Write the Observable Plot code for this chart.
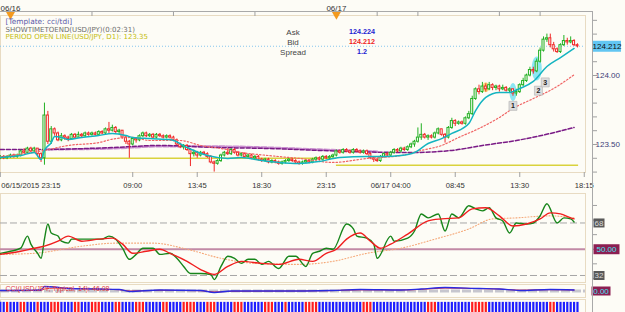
<!DOCTYPE html>
<html><head><meta charset="utf-8">
<script src="https://cdn.jsdelivr.net/npm/d3@7"></script>
<script src="https://cdn.jsdelivr.net/npm/@observablehq/plot@0.6"></script>
<style>
html,body{margin:0;padding:0;background:#fdfcf6;}
#c{position:relative;width:625px;height:312px;overflow:hidden;background:#fdfcf6;}
#c svg{position:absolute;left:0;}
.vline{position:absolute;background:#a9a9a9;}
</style></head><body><div id="c"></div>
<script>
// ---------- data ----------
const firstOpen = 123.40;
const close = [
123.41,123.40,123.41,123.42,123.41,123.42,123.45,123.44,123.47,123.45,
123.47,123.43,123.40,123.71,123.52,123.61,123.58,123.53,123.56,123.55,
123.54,123.57,123.55,123.57,123.56,123.58,123.57,123.58,123.57,123.59,
123.58,123.61,123.60,123.62,123.59,123.60,123.55,123.52,123.50,123.54,
123.53,123.56,123.58,123.56,123.57,123.55,123.57,123.56,123.55,123.56,
123.55,123.53,123.50,123.48,123.49,123.46,123.43,123.44,123.42,123.44,
123.43,123.41,123.37,123.36,123.38,123.42,123.44,123.43,123.46,123.44,
123.42,123.43,123.41,123.42,123.40,123.41,123.39,123.38,123.39,123.37,
123.38,123.37,123.36,123.37,123.38,123.39,123.38,123.37,123.36,123.37,
123.38,123.37,123.39,123.40,123.39,123.41,123.40,123.41,123.42,123.45,
123.44,123.46,123.45,123.44,123.46,123.45,123.44,123.45,123.43,123.40,
123.39,123.38,123.41,123.43,123.42,123.44,123.46,123.45,123.47,123.46,
123.48,123.50,123.52,123.55,123.57,123.55,123.56,123.55,123.58,123.61,
123.57,123.55,123.62,123.67,123.65,123.66,123.65,123.69,123.72,123.83,
123.90,123.88,123.92,123.90,123.93,123.91,123.92,123.90,123.91,123.89,
123.90,123.87,123.88,123.93,123.96,124.00,124.04,124.03,124.10,124.18,
124.26,124.27,124.22,124.19,124.17,124.22,124.25,124.24,124.25,124.22,
124.212];
const high = [
123.42,123.42,123.42,123.43,123.43,123.43,123.46,123.47,123.48,123.48,
123.48,123.47,123.44,123.80,123.74,123.63,123.62,123.59,123.58,123.57,
123.56,123.58,123.58,123.59,123.58,123.59,123.59,123.59,123.59,123.60,
123.60,123.62,123.66,123.64,123.63,123.61,123.60,123.56,123.53,123.55,
123.55,123.57,123.59,123.59,123.58,123.58,123.58,123.58,123.57,123.57,
123.57,123.56,123.54,123.51,123.50,123.50,123.47,123.46,123.45,123.45,
123.45,123.44,123.42,123.38,123.39,123.43,123.45,123.47,123.47,123.47,
123.45,123.44,123.44,123.43,123.43,123.42,123.42,123.40,123.40,123.40,
123.39,123.39,123.38,123.38,123.39,123.40,123.40,123.39,123.38,123.38,
123.39,123.39,123.40,123.41,123.41,123.42,123.42,123.42,123.43,123.46,
123.46,123.47,123.47,123.46,123.47,123.47,123.46,123.46,123.46,123.44,
123.41,123.40,123.42,123.44,123.44,123.45,123.47,123.47,123.48,123.48,
123.49,123.51,123.53,123.62,123.65,123.58,123.57,123.57,123.59,123.62,
123.61,123.58,123.63,123.69,123.68,123.67,123.67,123.70,123.74,123.85,
123.91,123.93,123.95,123.94,123.95,123.94,123.93,123.93,123.93,123.92,
123.91,123.90,123.90,123.94,123.98,124.01,124.06,124.06,124.12,124.20,
124.28,124.30,124.30,124.24,124.20,124.23,124.29,124.27,124.28,124.26,
124.23];
const low = [
123.39,123.39,123.39,123.40,123.40,123.40,123.41,123.43,123.43,123.44,
123.44,123.41,123.37,123.35,123.50,123.50,123.56,123.52,123.52,123.53,
123.52,123.53,123.54,123.55,123.55,123.55,123.56,123.56,123.56,123.56,
123.57,123.57,123.58,123.59,123.58,123.57,123.54,123.50,123.40,123.49,
123.51,123.52,123.55,123.55,123.55,123.54,123.54,123.55,123.54,123.54,
123.54,123.52,123.49,123.47,123.46,123.45,123.34,123.41,123.40,123.41,
123.42,123.40,123.36,123.30,123.35,123.37,123.41,123.42,123.42,123.43,
123.41,123.41,123.40,123.40,123.39,123.39,123.38,123.37,123.37,123.36,
123.36,123.36,123.35,123.35,123.36,123.37,123.37,123.36,123.35,123.35,
123.36,123.36,123.36,123.38,123.38,123.38,123.39,123.39,123.40,123.41,
123.43,123.43,123.44,123.43,123.43,123.44,123.43,123.43,123.42,123.39,
123.37,123.37,123.37,123.40,123.41,123.41,123.43,123.44,123.44,123.45,
123.45,123.47,123.48,123.51,123.53,123.54,123.53,123.54,123.54,123.57,
123.56,123.51,123.54,123.61,123.63,123.64,123.64,123.64,123.68,123.71,
123.82,123.86,123.87,123.88,123.89,123.89,123.89,123.88,123.89,123.88,
123.87,123.85,123.85,123.87,123.92,123.95,123.99,124.01,124.02,124.09,
124.17,124.24,124.20,124.17,124.16,124.16,124.21,124.22,124.23,124.21,
124.20];

// moving averages (candle index, price)
const cyanIdx = [0,6,10,12,13,15,16,18,20,24,29,33,37,39,44,50,55,61,67,71,77,82,88,94,100,108,113,118,122,126,130,133,138,140,143,147,150,153,157,161,165,169];
const cyanVal = [123.406,123.420,123.442,123.391,123.457,123.514,123.558,123.551,123.536,123.551,123.565,123.580,123.565,123.551,123.543,123.536,123.478,123.420,123.399,123.406,123.384,123.370,123.362,123.377,123.406,123.413,123.413,123.420,123.442,123.507,123.543,123.580,123.652,123.746,123.841,123.877,123.877,123.906,123.957,124.065,124.130,124.196];
const redMaIdx = [0,13,20,29,34,39,44,53,59,65,71,79,88,98,108,118,124,130,135,141,147,151,157,163,169];
const redMaVal = [123.41,123.457,123.493,123.514,123.543,123.551,123.529,123.529,123.493,123.471,123.442,123.420,123.399,123.370,123.399,123.420,123.457,123.493,123.551,123.616,123.696,123.761,123.833,123.906,124.005];
const purpleIdx = [0,12,33,47,64,79,94,103,121,133,142,152,162,169];
const purpleVal = [123.464,123.464,123.478,123.493,123.478,123.471,123.457,123.449,123.442,123.457,123.493,123.529,123.580,123.623];
const lilacIdx = [13,33,47,64,79,94,111];
const lilacVal = [123.464,123.471,123.486,123.486,123.478,123.464,123.449];
const openLineStart = ["2015-06-15T23:15Z","2015-06-17T00:00Z"];
const openLineEnd   = ["2015-06-17T00:00Z","2015-06-17T17:50Z"];
const openLinePrice = [123.40, 123.35];
const ask = 124.224, bid = 124.212, spread = 1.2;

// markers
const ellipseIdx = [143, 151, 158];
const ellipsePrice = [123.915, 123.88, 124.05];
const ellipseColor = ["#f5d66b", "#7fe3f3", "#7fe3f3"];
const ellipseRx = [3.5, 3.5, 5];
const ellipseRy = [5, 9, 12];
const numIdx = [151, 158.5, 160.5];
const numPrice = [123.78, 123.89, 123.95];
const numText = ["1","2","3"];

// TDI (RSI panel)
const greenIdx = [0,3,6,8,9,11,12,13,14,15,17,18,20,21,24,26,29,30,32,34,36,38,40,42,45,47,50,52,54,56,59,62,63,65,67,69,71,73,75,77,79,82,85,87,90,92,94,96,98,102,104,105,108,110,111,115,116,120,122,124,126,129,131,133,135,138,140,142,144,146,148,150,152,155,157,159,161,164,166,168,169];
const greenVal = [47.2,48.6,50.7,59.0,53.5,47.2,43.8,56.9,67.3,61.1,59.0,55.5,54.2,56.9,56.9,56.9,56.9,56.9,59.0,56.9,50.7,43.1,46.5,50.7,50.7,46.5,47.2,43.8,38.2,33.4,33.4,32.7,29.2,38.2,45.2,43.8,40.3,43.1,43.1,39.6,41.7,36.8,45.2,45.2,38.2,47.2,48.6,50.7,50.0,67.3,63.9,59.0,57.6,53.5,43.8,59.0,55.5,57.6,62.5,74.2,71.5,74.2,62.5,74.2,71.5,79.8,77.7,76.3,78.4,71.5,69.4,61.1,68.0,67.3,68.0,72.9,81.2,68.0,71.5,70.8,68.7];
const redIdx = [0,6,10,13,17,20,24,29,33,36,39,43,47,50,55,59,63,67,71,77,82,88,92,96,99,102,106,109,112,115,120,126,130,135,139,143,147,151,155,159,162,165,168,169];
const redVal = [46.5,48.6,50.7,52.1,55.5,59.0,55.5,56.9,57.6,53.5,47.2,48.6,50.0,47.2,41.7,36.1,32.7,38.2,41.7,40.3,39.6,43.1,41.7,47.2,50.0,56.9,61.1,55.5,50.7,53.5,60.4,69.4,70.8,71.5,77.7,78.4,72.9,65.9,67.3,70.8,74.9,74.2,71.5,70.8];
const orangeIdx = [0,10,24,34,45,55,65,75,88,98,108,118,128,138,145,152,162,169];
const orangeVal = [46.5,47.2,52.1,54.2,54.2,50.0,43.8,40.3,39.6,41.7,47.2,50.7,56.9,63.9,70.8,71.5,72.9,71.5];
const rsiLevels = [68, 50, 32];

// CCI panel
const cciIdx = [0,12,13,16,20,29,35,38,47,59,63,68,77,88,97,106,118,124,131,141,147,153,162,169];
const cciBlue = [15,31,138,123,77,62,46,-15,31,15,-46,0,0,0,15,46,31,62,108,77,62,15,46,31];
const cciRed = [10,20,60,90,80,55,40,0,20,10,-30,-10,-5,0,10,35,30,50,90,75,60,25,40,30];
const cciLabel = "CCI(USD/JPY, Typical, 14): 46.08";

// bottom trend strip (one colour per candle)
const strip = "bbrbbbrrbbbrbbbrrrbbbbrrbbbrrrbbbbrrbbbbrrrbbbbbrrbbbbrrrrbbbrrrbbbbbrrrbbbbbbrrrbbbrbbbbbrrrrbbbbbbbbbbbbbrrrbbbbbbbbbbbbbbbbrrrbbbbbbbbbbrrrrrbbbbbbbbbbbbbbbbbbrrbbbbbbb".split("");

// axis labels
const dayTicks = ["2015-06-16T00:00Z","2015-06-17T00:00Z"];
const dayLabels = ["06/16","06/17"];
const topTickTimes = ["2015-06-16T06:00Z","2015-06-16T12:00Z","2015-06-16T18:00Z","2015-06-17T03:00Z","2015-06-17T06:00Z","2015-06-17T12:00Z","2015-06-17T15:00Z"];
const timeTicks = ["2015-06-15T23:15Z","2015-06-16T09:00Z","2015-06-16T13:45Z","2015-06-16T18:30Z","2015-06-16T23:15Z","2015-06-17T04:00Z","2015-06-17T08:45Z","2015-06-17T13:30Z","2015-06-17T18:15Z"];
const timeLabels = ["06/15/2015 23:15","09:00","13:45","18:30","23:15","06/17 04:00","08:45","13:30","18:15"];
const priceLabelTicks = [123.5, 124.0];

// ---------- layout helpers ----------
const PXH = 13.58, HOUR = 3600e3;
const D16 = Date.UTC(2015,5,16);
const T0 = Date.UTC(2015,5,15,23,15);
const xDomain = [new Date(D16 - 10/PXH*HOUR), new Date(D16 + 575/PXH*HOUR)];
const tOf = i => new Date(T0 + i*15*60e3);
const P = s => new Date(s);
const tan = "#e8dbc2";
const font = "'Liberation Sans', Arial, sans-serif";
const wide = "'DejaVu Sans', Verdana, sans-serif";
const st = {background:"transparent", fontFamily:font, fontSize:"8px", overflow:"visible", color:"#333"};
const box = (w,h) => ({draw(ctx){ctx.moveTo(-w/2,-h/2);ctx.lineTo(w/2,-h/2);ctx.lineTo(w/2,h/2);ctx.lineTo(-w/2,h/2);ctx.closePath();}});
const ell = (rx,ry) => ({draw(ctx){const k=0.5523;ctx.moveTo(0,-ry);ctx.bezierCurveTo(k*rx,-ry,rx,-k*ry,rx,0);ctx.bezierCurveTo(rx,k*ry,k*rx,ry,0,ry);ctx.bezierCurveTo(-k*rx,ry,-rx,k*ry,-rx,0);ctx.bezierCurveTo(-rx,-k*ry,-k*rx,-ry,0,-ry);ctx.closePath();}});

const candles = close.map((c,i)=>({t:tOf(i), open: i ? close[i-1] : firstOpen, close:c, high:high[i], low:low[i]}));
const up = d => d.close >= d.open;
const GREEN = "#22b022", RED = "#f02828";
const series = (idx, val) => idx.map((i,k)=>({t:tOf(i), v:val[k]}));
const openLines = openLinePrice.map((p,k)=>({x1:P(openLineStart[k]), x2:P(openLineEnd[k]), y:p}));
const labelOf = new Map(timeTicks.map((t,k)=>[+P(t), timeLabels[k]]));
const dayOf = new Map(dayTicks.map((t,k)=>[+P(t), dayLabels[k]]));

const container = document.getElementById("c");
function place(svg, top){ svg.style.top = top+"px"; container.appendChild(svg); }
const txt = (s, dx, dy, fill, extra={}) => Plot.text([s], {frameAnchor:"top-left", dx, dy, textAnchor:"start", lineAnchor:"middle", fill, ...extra});

// ---------- main price panel ----------
const main = Plot.plot({
  width:625, height:195, marginTop:15, marginBottom:23, marginLeft:0, marginRight:40,
  x:{domain:xDomain, axis:null, label:null}, y:{domain:[123.297,124.435], axis:null, label:null}, style:st,
  marks:[
    Plot.frame({stroke:tan}),
    Plot.axisX({anchor:"top", ticks:topTickTimes.map(P), tickSize:4, tickFormat:()=>"", stroke:"#a0a0a0", label:null}),
    Plot.axisX({anchor:"top", ticks:dayTicks.map(P), tickSize:0, tickPadding:5, tickFormat:d=>dayOf.get(+d), fill:"#333", label:null}),
    Plot.dot(dayTicks.map(P), {x:d=>d, frameAnchor:"top", symbol:"triangle", r:3.3, rotate:180, fill:"#f39a1e", dy:-1}),
    Plot.axisX({anchor:"bottom", ticks:timeTicks.map(P), tickSize:5, tickFormat:()=>"", stroke:"#a0a0a0", label:null}),
    Plot.axisX({anchor:"bottom", ticks:timeTicks.slice(1).map(P), tickSize:0, tickPadding:10, tickFormat:d=>labelOf.get(+d), fill:"#333", fontSize:7.6, label:null}),
    Plot.axisX({anchor:"bottom", ticks:[P(timeTicks[0])], tickSize:0, tickPadding:10, textAnchor:"start", dx:1, tickFormat:d=>labelOf.get(+d), fill:"#333", fontSize:7.6, label:null}),
    Plot.ruleY(openLines, {y:"y", x1:"x1", x2:"x2", stroke:"#d9d23c", strokeWidth:1.5}),
    Plot.ruleY([bid], {stroke:"#86c6ee", strokeDasharray:"1,2"}),
    Plot.dot(ellipseIdx.map((i,k)=>({t:tOf(i), p:ellipsePrice[k], k})), {x:"t", y:"p", fill:d=>ellipseColor[d.k], symbol:d=>ell(ellipseRx[d.k],ellipseRy[d.k]), fillOpacity:0.9}),
    Plot.line(series(lilacIdx, lilacVal), {x:"t", y:"v", stroke:"#c98fcf", strokeWidth:2.2, strokeDasharray:"5,2", curve:"monotone-x"}),
    Plot.line(series(purpleIdx, purpleVal), {x:"t", y:"v", stroke:"#7a1a86", strokeWidth:1.5, strokeDasharray:"4,2", curve:"monotone-x"}),
    Plot.ruleX(candles, {x:"t", y1:"low", y2:"high", stroke:d=>up(d)?GREEN:RED, strokeWidth:1}),
    Plot.rect(candles, {x1:d=>new Date(+d.t-4.5*60e3), x2:d=>new Date(+d.t+4.5*60e3), y1:"open", y2:"close", fill:"#fffefa", stroke:d=>up(d)?GREEN:RED, strokeWidth:1}),
    Plot.line(series(redMaIdx, redMaVal), {x:"t", y:"v", stroke:"#f06464", strokeWidth:1.2, strokeDasharray:"1.5,2", curve:"monotone-x"}),
    Plot.line(series(cyanIdx, cyanVal), {x:"t", y:"v", stroke:"#14b4c0", strokeWidth:1.5, curve:"monotone-x"}),
    Plot.dot(numIdx.map((i,k)=>({t:new Date(T0+i*15*60e3), p:numPrice[k]})), {x:"t", y:"p", symbol:box(8,9), fill:"#dcdcdc", stroke:"#b0b0b0", strokeWidth:0.6}),
    Plot.text(numIdx.map((i,k)=>({t:new Date(T0+i*15*60e3), p:numPrice[k], s:numText[k]})), {x:"t", y:"p", text:"s", fill:"#222", fontWeight:"bold", fontSize:7}),
    txt("[Template: cci/tdi]", 5, 6.2, "#5a5aa8", {fontSize:7.4, fontFamily:wide}),
    txt("SHOWTIMETOEND(USD/JPY)(0:02:31)", 5, 14, "#6e6e6e", {fontSize:7, fontFamily:wide}),
    txt(`PERIOD OPEN LINE(USD/JPY, D1): ${openLinePrice[1]}`, 5, 21.6, "#c4bc10", {fontSize:7, fontFamily:wide}),
    txt("Ask", 292.5, 16.6, "#444", {textAnchor:"middle"}),
    txt("Bid", 292.5, 26.6, "#444", {textAnchor:"middle"}),
    txt("Spread", 292.5, 36.6, "#444", {textAnchor:"middle"}),
    txt(ask.toFixed(3), 361.5, 16.6, "#1e1ed2", {textAnchor:"middle", fontWeight:"bold", fontSize:7.2}),
    txt(bid.toFixed(3), 361.5, 26.6, "#ee1e1e", {textAnchor:"middle", fontWeight:"bold", fontSize:7.2}),
    txt(spread.toFixed(1), 361.5, 36.6, "#1e1ed2", {textAnchor:"middle", fontWeight:"bold", fontSize:7.2}),
    Plot.axisY({anchor:"right", ticks:d3.range(12330,12445,10).map(v=>v/100), tickSize:4, dx:7, tickFormat:()=>"", stroke:"#a0a0a0", label:null}),
    Plot.axisY({anchor:"right", ticks:priceLabelTicks, tickSize:0, tickPadding:10, tickFormat:d=>d.toFixed(2), fill:"#3c3c78", label:null}),
    Plot.dot([bid], {y:d=>d, frameAnchor:"right", dx:21.5, symbol:box(28,11), fill:"#62c6f2"}),
    Plot.text([bid], {y:d=>d, frameAnchor:"right", dx:21.5, text:d=>d.toFixed(3), fill:"#111", textAnchor:"middle"})
  ]
});
place(main, 0);

// ---------- TDI panel ----------
const rsi = Plot.plot({
  width:625, height:100, marginTop:7, marginBottom:4, marginLeft:0, marginRight:40,
  x:{domain:xDomain, axis:null, label:null}, y:{domain:[27.2,88.2], axis:null, label:null}, style:st,
  marks:[
    Plot.frame({stroke:tan}),
    Plot.ruleY([rsiLevels[1]], {stroke:"#c28aa6", strokeWidth:2}),
    Plot.ruleY([rsiLevels[0], rsiLevels[2]], {stroke:"#a6a6a6", strokeDasharray:"7,3"}),
    Plot.line(series(orangeIdx, orangeVal), {x:"t", y:"v", stroke:"#f5a878", strokeWidth:1.1, strokeDasharray:"1,2", curve:"monotone-x"}),
    Plot.line(series(greenIdx, greenVal), {x:"t", y:"v", stroke:"#17851a", strokeWidth:1.4, curve:"monotone-x"}),
    Plot.line(series(redIdx, redVal), {x:"t", y:"v", stroke:"#f01e1e", strokeWidth:1.4, curve:"monotone-x"}),
    Plot.axisY({anchor:"right", ticks:d3.range(30,90,10), tickSize:4, dx:7, tickFormat:()=>"", stroke:"#a0a0a0", label:null}),
    Plot.dot([rsiLevels[0], rsiLevels[2]], {y:d=>d, frameAnchor:"right", dx:13.5, symbol:box(11,9), fill:"#595959"}),
    Plot.text([rsiLevels[0], rsiLevels[2]], {y:d=>d, frameAnchor:"right", dx:13.5, text:d=>String(d), fill:"#d8d8d8", textAnchor:"middle"}),
    Plot.dot([rsiLevels[1]], {y:d=>d, frameAnchor:"right", dx:21, symbol:box(26,10), fill:"#8c1f52"}),
    Plot.text([rsiLevels[1]], {y:d=>d, frameAnchor:"right", dx:21, text:d=>d.toFixed(2), fill:"#3ee4f2", textAnchor:"middle"})
  ]
});
place(rsi, 186);

// ---------- CCI panel ----------
const cci = Plot.plot({
  width:625, height:16, marginTop:1, marginBottom:2, marginLeft:0, marginRight:40,
  x:{domain:xDomain, axis:null, label:null}, y:{domain:[-200,200], axis:null, label:null}, style:st,
  marks:[
    Plot.frame({stroke:tan}),
    Plot.ruleY([0], {stroke:"#c6c6ce", strokeWidth:3, strokeDasharray:"9,2"}),
    Plot.line(series(cciIdx, cciRed), {x:"t", y:"v", stroke:"#f03030", strokeWidth:1, curve:"monotone-x"}),
    Plot.line(series(cciIdx, cciBlue), {x:"t", y:"v", stroke:"#2a2ae0", strokeWidth:1.3, curve:"monotone-x"}),
    Plot.text([cciLabel], {frameAnchor:"top-left", dx:5, dy:4, textAnchor:"start", lineAnchor:"middle", fill:"#e04040", fontSize:7}),
    Plot.dot([0], {y:d=>d, frameAnchor:"right", dx:15.5, symbol:box(19,9), fill:"#8c1f52"}),
    Plot.text([0], {y:d=>d, frameAnchor:"right", dx:15.5, text:d=>d.toFixed(2), fill:"#3ee4f2", textAnchor:"middle"})
  ]
});
place(cci, 283);

// ---------- trend strip ----------
const stripData = strip.map((c,i)=>({t:tOf(i), c}));
const bars = Plot.plot({
  width:625, height:14, marginTop:1, marginBottom:0, marginLeft:0, marginRight:40,
  x:{domain:xDomain, axis:null, label:null}, y:{domain:[0,1], axis:null, label:null}, style:st,
  marks:[
    Plot.frame({stroke:tan}),
    Plot.ruleX(stripData, {x:"t", y1:0, y2:0.78, stroke:d=>d.c==="r"?"#ff1e1e":"#1e1eff", strokeWidth:2.2})
  ]
});
place(bars, 298);

// axis lines (frame)
const h = document.createElement("div"); h.className="vline"; Object.assign(h.style,{left:"0px",top:"11px",width:"593px",height:"1px"}); container.appendChild(h);
const v = document.createElement("div"); v.className="vline"; Object.assign(v.style,{left:"592px",top:"11px",width:"1px",height:"301px"}); container.appendChild(v);
</script></body></html>
